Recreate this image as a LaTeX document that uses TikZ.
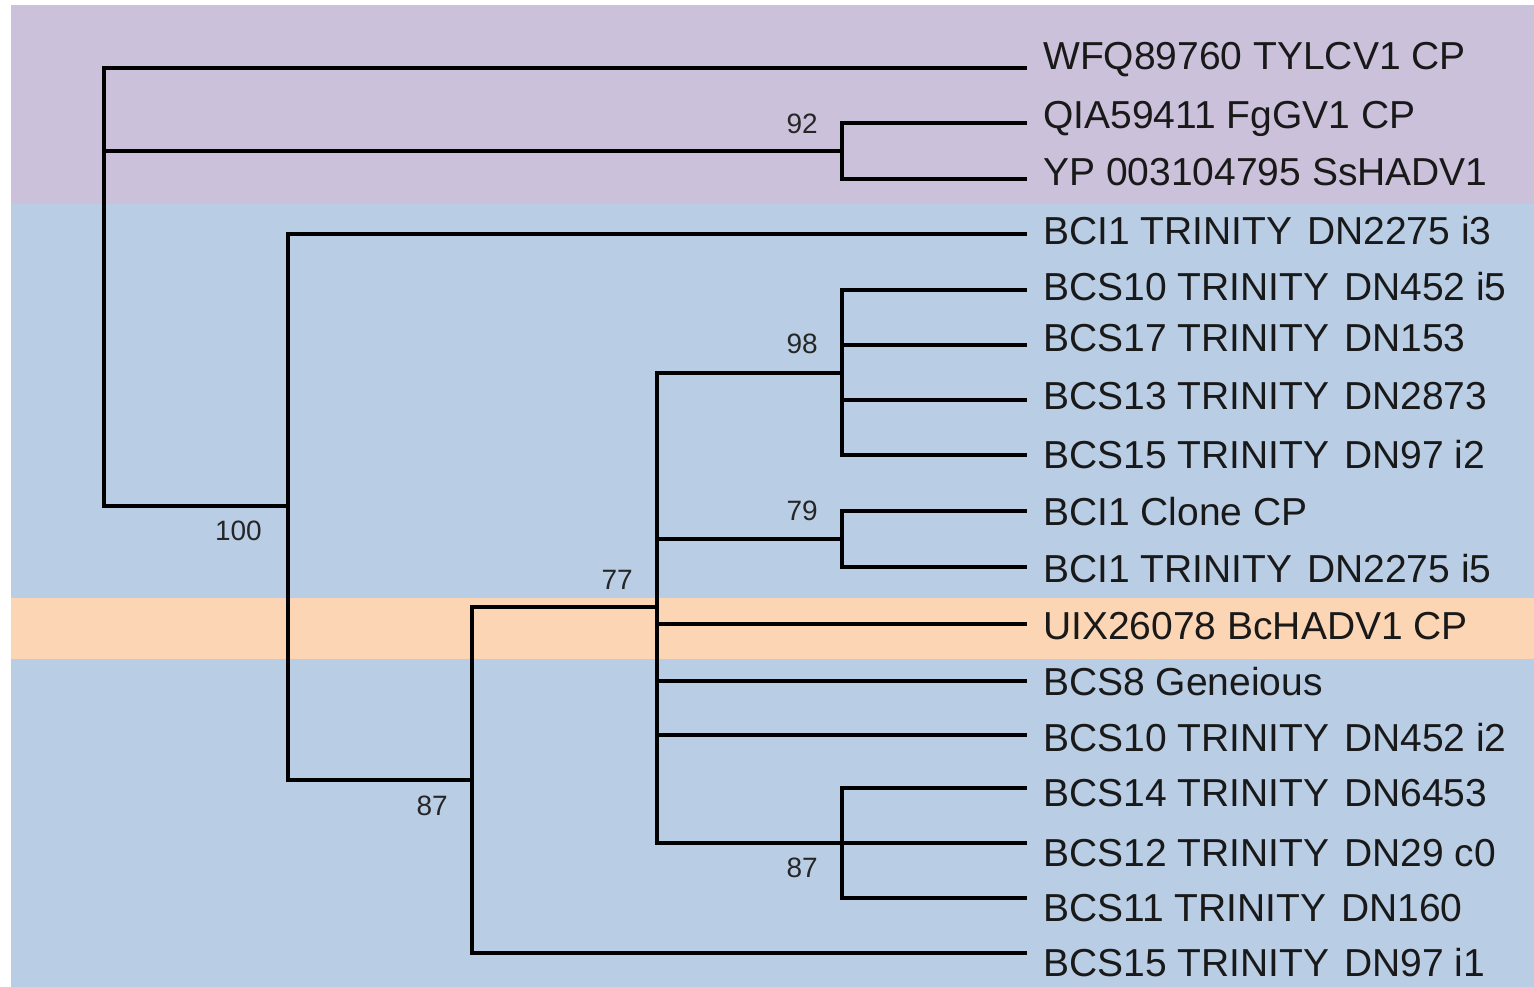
\documentclass[tikz,border=0pt]{standalone}
\usepackage{fontspec}
\setmainfont{Liberation Sans}
\definecolor{bgpurple}{HTML}{CBC1DB}
\definecolor{bgblue}{HTML}{B9CDE5}
\definecolor{bgorange}{HTML}{FCD5B4}
\newcommand{\dsp}{\hspace{0.38em}}
\tikzset{
  branch/.style={draw=black,line width=3.2pt,line cap=rect,line join=miter},
  leaflabel/.style={anchor=base west,inner sep=0pt,font=\fontsize{39}{39}\selectfont,text=black!90},
  boot/.style={anchor=east,inner sep=0pt,font=\fontsize{28}{28}\selectfont,text=black!85},
}
\begin{document}
\begin{tikzpicture}[x=1pt,y=-1pt]
\useasboundingbox (0,0) rectangle (1534,987);
\fill[white] (0,0) rectangle (1534,987);
% background bands
\fill[bgpurple] (11,5) rectangle (1534,204);
\fill[bgblue] (11,204) rectangle (1534,987);
\fill[bgorange] (11,598) rectangle (1534,659);

% internal nodes
\coordinate (root) at (104,287);
\coordinate (n92) at (842,151);
\coordinate (n100) at (288,506);
\coordinate (n87a) at (472,780);
\coordinate (n77) at (657,607);
\coordinate (n98) at (842,373);
\coordinate (n79) at (842,539);
\coordinate (n87b) at (842,843);

% leaf ends
\coordinate (l1) at (1025,68);
\coordinate (l2) at (1025,123);
\coordinate (l3) at (1025,179);
\coordinate (l4) at (1025,234);
\coordinate (l5) at (1025,290);
\coordinate (l6) at (1025,345);
\coordinate (l7) at (1025,400);
\coordinate (l8) at (1025,455);
\coordinate (l9) at (1025,511);
\coordinate (l10) at (1025,567);
\coordinate (l11) at (1025,624);
\coordinate (l12) at (1025,681);
\coordinate (l13) at (1025,735);
\coordinate (l14) at (1025,788);
\coordinate (l15) at (1025,843);
\coordinate (l16) at (1025,898);
\coordinate (l17) at (1025,953);

% branches
\draw[branch] (root) |- (l1);
\draw[branch] (root) |- (n92);
\draw[branch] (root) |- (n100);
\draw[branch] (n92) |- (l2);
\draw[branch] (n92) |- (l3);
\draw[branch] (n100) |- (l4);
\draw[branch] (n100) |- (n87a);
\draw[branch] (n87a) |- (n77);
\draw[branch] (n87a) |- (l17);
\draw[branch] (n77) |- (n98);
\draw[branch] (n77) |- (n79);
\draw[branch] (n77) |- (l11);
\draw[branch] (n77) |- (l12);
\draw[branch] (n77) |- (l13);
\draw[branch] (n77) |- (n87b);
\draw[branch] (n98) |- (l5);
\draw[branch] (n98) |- (l6);
\draw[branch] (n98) |- (l7);
\draw[branch] (n98) |- (l8);
\draw[branch] (n79) |- (l9);
\draw[branch] (n79) |- (l10);
\draw[branch] (n87b) |- (l14);
\draw[branch] (n87b) |- (l15);
\draw[branch] (n87b) |- (l16);

% bootstrap values
\node[boot] (b92) at ([shift={(-24,-27)}]n92) {92};
\node[boot] (b98) at ([shift={(-24,-29)}]n98) {98};
\node[boot] (b79) at ([shift={(-24,-28)}]n79) {79};
\node[boot] (b77) at ([shift={(-24,-27)}]n77) {77};
\node[boot] (b100) at ([shift={(-26,25)}]n100) {100};
\node[boot] (b87a) at ([shift={(-24,26)}]n87a) {87};
\node[boot] (b87b) at ([shift={(-24,25)}]n87b) {87};

% leaf labels
\node[leaflabel] (t1) at (1043,70) {WFQ89760 TYLCV1 CP};
\node[leaflabel] (t2) at (1043,129) {QIA59411 FgGV1 CP};
\node[leaflabel] (t3) at (1043,186) {YP 003104795 SsHADV1};
\node[leaflabel] (t4) at (1043,244) {BCI1 TRINITY\dsp DN2275 i3};
\node[leaflabel] (t5) at (1043,300) {BCS10 TRINITY\dsp DN452 i5};
\node[leaflabel] (t6) at (1043,351) {BCS17 TRINITY\dsp DN153};
\node[leaflabel] (t7) at (1043,409) {BCS13 TRINITY\dsp DN2873};
\node[leaflabel] (t8) at (1043,468) {BCS15 TRINITY\dsp DN97 i2};
\node[leaflabel] (t9) at (1043,525) {BCI1 Clone CP};
\node[leaflabel] (t10) at (1043,582) {BCI1 TRINITY\dsp DN2275 i5};
\node[leaflabel] (t11) at (1043,639) {UIX26078 BcHADV1 CP};
\node[leaflabel] (t12) at (1043,695) {BCS8 Geneious};
\node[leaflabel] (t13) at (1043,751) {BCS10 TRINITY\dsp DN452 i2};
\node[leaflabel] (t14) at (1043,806) {BCS14 TRINITY\dsp DN6453};
\node[leaflabel] (t15) at (1043,866) {BCS12 TRINITY\dsp DN29 c0};
\node[leaflabel] (t16) at (1043,921) {BCS11 TRINITY\dsp DN160};
\node[leaflabel] (t17) at (1043,976) {BCS15 TRINITY\dsp DN97 i1};
\end{tikzpicture}
\end{document}
